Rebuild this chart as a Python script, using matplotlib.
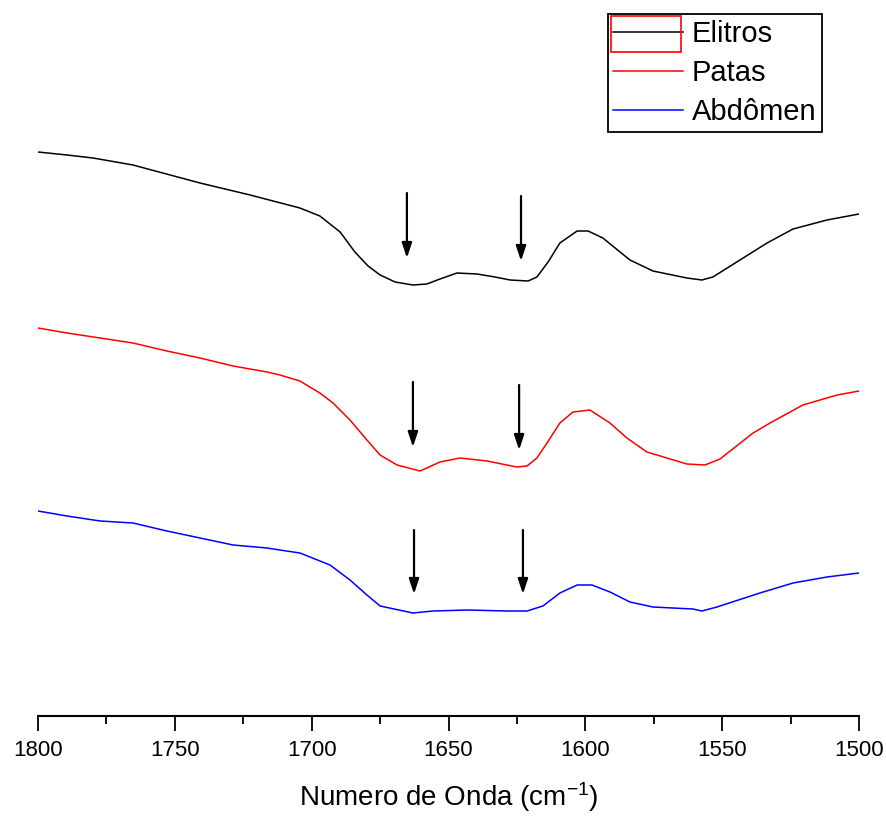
import matplotlib
matplotlib.use("Agg")
from matplotlib import pyplot as plt
from matplotlib.patches import Rectangle
from matplotlib.ticker import MultipleLocator

plt.rcParams['font.family'] = ['Liberation Sans', 'DejaVu Sans']
plt.rcParams['mathtext.default'] = 'regular'

# spectra (wavenumber in cm-1, intensity in arbitrary units)
elitros_wn = [1800, 1789.4, 1779.9, 1765.3, 1740.8, 1722.5, 1704.3, 1697.0, 1689.6, 1684.2,
              1679.4, 1675.0, 1669.5, 1663.0, 1657.9, 1653.1, 1646.9, 1639.6, 1633.0, 1627.5,
              1620.9, 1617.7, 1613.6, 1609.3, 1603.0, 1599.0, 1593.6, 1583.7, 1575.3, 1562.9,
              1557.4, 1553.4, 1543.5, 1533.6, 1524.1, 1511.7, 1500]
elitros_y = [564, 561, 558, 551, 533, 521, 508, 500, 484, 464,
             450, 441, 434, 431, 432, 437, 443, 442, 439, 436,
             435, 439, 454, 473, 485, 485, 478, 456, 445, 438,
             436, 439, 456, 473, 487, 496, 502]

patas_wn = [1800, 1789.4, 1777.3, 1765.3, 1752.9, 1740.8, 1728.7, 1716.3, 1711.6, 1704.3,
            1697.0, 1692.2, 1686.0, 1679.8, 1675.0, 1668.8, 1660.4, 1653.1, 1645.8, 1635.9,
            1625.0, 1621.3, 1617.7, 1614.0, 1609.3, 1604.5, 1598.3, 1591.0, 1584.8, 1577.5,
            1570.2, 1562.9, 1556.3, 1550.8, 1538.7, 1532.5, 1520.5, 1508.0, 1500]
patas_y = [388, 383, 378, 373, 365, 358, 350, 344, 341, 335,
           323, 313, 296, 276, 261, 251, 245, 254, 258, 255,
           249, 250, 258, 273, 293, 304, 306, 293, 278, 264,
           258, 252, 251, 257, 283, 293, 311, 321, 325]

abdomen_wn = [1800, 1789.4, 1777.3, 1765.3, 1752.9, 1740.8, 1728.7, 1716.3, 1711.6, 1704.3,
              1693.3, 1686.0, 1679.8, 1675.0, 1663.0, 1655.7, 1643.2, 1628.6, 1621.3, 1615.5,
              1609.3, 1603.0, 1597.6, 1591.0, 1583.7, 1575.3, 1560.7, 1557.4, 1551.9, 1536.2,
              1524.1, 1511.7, 1500]
abdomen_y = [205, 200, 195, 193, 185, 178, 171, 168, 166, 163,
             151, 136, 121, 110, 103, 105, 106, 105, 105, 110,
             123, 131, 131, 124, 114, 109, 107, 105, 109, 123,
             133, 139, 143]

# arrows marking the bands
arrow_wn = [1665.2, 1623.5, 1663.0, 1624.2, 1662.6, 1622.8]
arrow_top = [523, 520, 334, 331, 186, 186]
arrow_tip = [458, 455, 269, 266, 122, 122]

W, H = 887, 816
fig = plt.figure(figsize=(W / 100, H / 100), dpi=100)
ax = fig.add_axes([38 / W, 100 / H, 821 / W, 716 / H])

ax.plot(elitros_wn, elitros_y, color='black', lw=1.1, label='Elitros')
ax.plot(patas_wn, patas_y, color='#ff0000', lw=1.1, label='Patas')
ax.plot(abdomen_wn, abdomen_y, color='#0000ff', lw=1.1, label='Abdômen')

for wn, y0, y1 in zip(arrow_wn, arrow_top, arrow_tip):
    ax.annotate('', xy=(wn, y1), xytext=(wn, y0),
                arrowprops=dict(arrowstyle='-|>,head_length=0.9,head_width=0.3',
                                color='black', lw=1.6, mutation_scale=10,
                                shrinkA=0, shrinkB=0))

ax.set_xlim(1800, 1500)
ax.set_ylim(0, 716)
ax.xaxis.set_major_locator(MultipleLocator(50))
ax.xaxis.set_minor_locator(MultipleLocator(25))
ax.tick_params(axis='x', which='major', length=11, width=1.3, pad=6, labelsize=16)
ax.tick_params(axis='x', which='minor', length=6, width=1.3)
ax.set_yticks([])
for s in ['left', 'right', 'top']:
    ax.spines[s].set_visible(False)
ax.spines['bottom'].set_linewidth(1.5)
ax.set_xlabel('Numero de Onda (cm$^{-1}$)', fontsize=20, labelpad=14)

leg = ax.legend(loc='upper right', bbox_to_anchor=(822 / W, 1 - 14 / H),
                bbox_transform=fig.transFigure, borderaxespad=0, fontsize=21,
                fancybox=False, framealpha=1, edgecolor='black',
                handlelength=2.4, handletextpad=0.28, labelspacing=0.38,
                borderpad=0.2)
leg.get_frame().set_linewidth(1.3)

# red box drawn around the first legend handle
fig.patches.append(Rectangle((611 / W, 1 - 52 / H), 70 / W, 36 / H, fill=False,
                             edgecolor='#ff0000', lw=1.2, transform=fig.transFigure))

fig.savefig('out.png', dpi=100)
